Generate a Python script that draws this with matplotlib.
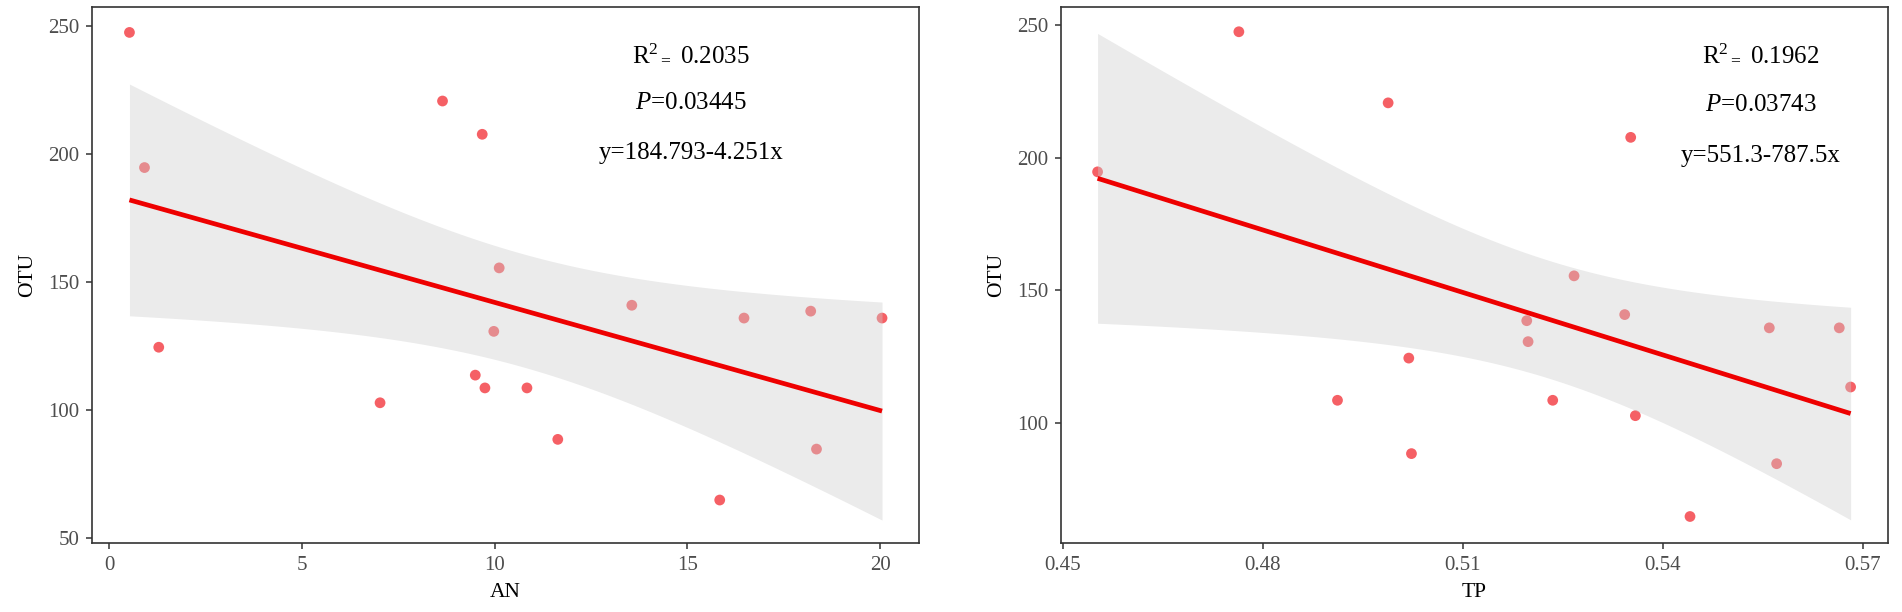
import numpy as np
import matplotlib
matplotlib.use("Agg")
import matplotlib.pyplot as plt

# Data (one row per sample)
otu = [247.5, 194.7, 124.5, 102.8, 220.7, 207.7, 113.6, 108.6, 130.7,
       155.5, 108.6, 88.5, 140.9, 64.8, 135.9, 138.6, 84.7, 135.9]
an = [0.53, 0.92, 1.29, 7.03, 8.65, 9.68, 9.50, 9.75, 9.98,
      10.12, 10.84, 11.64, 13.56, 15.84, 16.47, 18.20, 18.35, 20.05]
tp = [0.4764, 0.4552, 0.5019, 0.5359, 0.4988, 0.5352, 0.5682, 0.4912, 0.5198,
      0.5267, 0.5235, 0.5023, 0.5343, 0.5441, 0.5560, 0.5196, 0.5571, 0.5665]

an_ticks = [0, 5, 10, 15, 20]
tp_ticks = [0.45, 0.48, 0.51, 0.54, 0.57]
otu_ticks_an = [50, 100, 150, 200, 250]
otu_ticks_tp = [100, 150, 200, 250]

an_text = [r"R$^{2}$$_{=}$ 0.2035", r"$P$=0.03445", "y=184.793-4.251x"]
tp_text = [r"R$^{2}$$_{=}$ 0.1962", r"$P$=0.03743", "y=551.3-787.5x"]

T975 = 2.1199  # t quantile, df = 16

plt.rcParams['font.family'] = ['Liberation Serif', 'DejaVu Serif']
plt.rcParams['mathtext.fontset'] = 'custom'
plt.rcParams['mathtext.rm'] = 'Liberation Serif'
plt.rcParams['mathtext.it'] = 'Liberation Serif:italic'


def panel(ax, x, y, xlabel, xticks, yticks, xlim, ylim, texts, tx):
    x = np.asarray(x)
    y = np.asarray(y)
    ax.scatter(x, y, s=60, color='#F21C24', alpha=0.7, edgecolors='none', zorder=2)

    # linear fit + 95% confidence band
    b, a = np.polyfit(x, y, 1)
    n = len(x)
    xs = np.linspace(x.min(), x.max(), 200)
    fit = a + b * xs
    resid = y - (a + b * x)
    s = np.sqrt(np.sum(resid ** 2) / (n - 2))
    se = s * np.sqrt(1 / n + (xs - x.mean()) ** 2 / np.sum((x - x.mean()) ** 2))
    ax.fill_between(xs, fit - T975 * se, fit + T975 * se, color='#CDCDCD',
                    alpha=0.4, linewidth=0, zorder=3)
    ax.plot(xs, fit, color='#EE0000', lw=3.4, zorder=4, solid_capstyle='butt')

    ax.set_xlim(*xlim)
    ax.set_ylim(*ylim)
    ax.set_xticks(xticks)
    ax.set_yticks(yticks)
    ax.set_xlabel(xlabel, fontsize=15.5, labelpad=6)
    ax.set_ylabel("OTU", fontsize=15.5, labelpad=8)
    ax.tick_params(labelsize=15, labelcolor='#4D4D4D', color='#333333',
                   length=4, width=1.1, pad=5)
    for sp in ax.spines.values():
        sp.set_color('#333333')
        sp.set_linewidth(1.2)

    for txt, ty in zip(texts, [239, 220, 200.5]):
        ax.text(tx, ty, txt, fontsize=18, ha='center', va='center', color='black')


fig = plt.figure(figsize=(19.02, 6.12), dpi=100)
ax1 = fig.add_axes([0.0484, 0.1127, 0.4348, 0.8753])
ax2 = fig.add_axes([0.5578, 0.1127, 0.4348, 0.8753])

panel(ax1, an, otu, "AN", an_ticks, otu_ticks_an, (-0.44, 21.01), (48.0, 257.3),
      an_text, 15.1)
panel(ax2, tp, otu, "TP", tp_ticks, otu_ticks_tp, (0.4497, 0.5738), (54.8, 256.7),
      tp_text, 0.5547)

fig.savefig("out.png", dpi=100)
